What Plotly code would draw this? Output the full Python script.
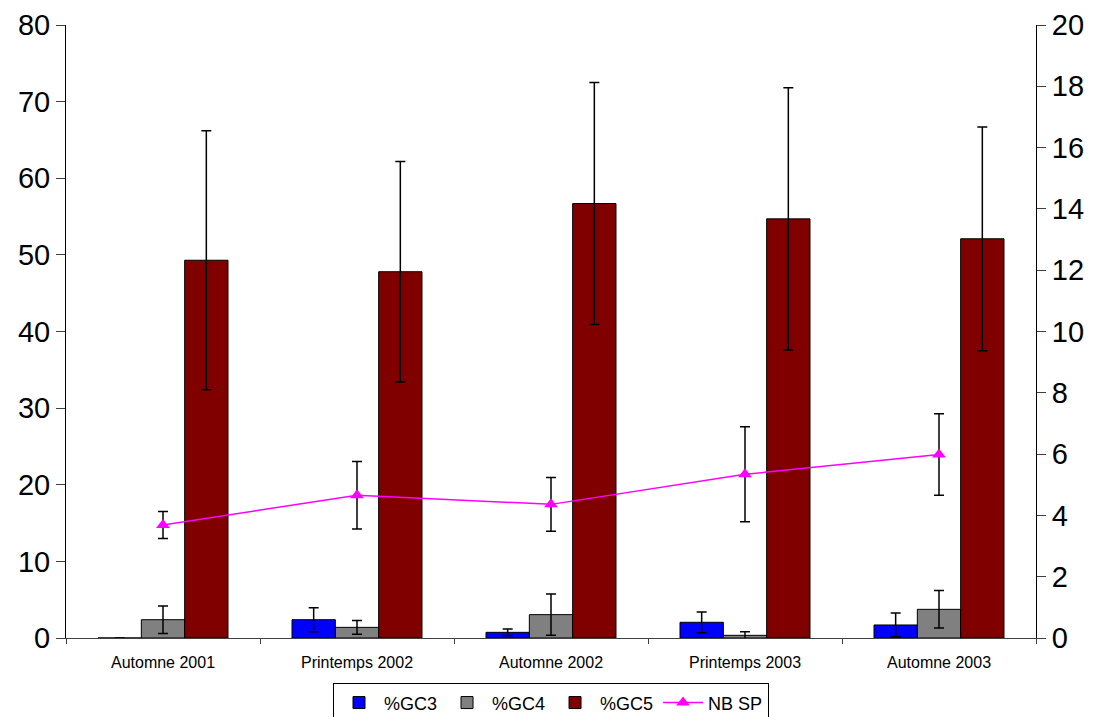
import plotly.graph_objects as go

categories = ["Automne 2001", "Printemps 2002", "Automne 2002", "Printemps 2003", "Automne 2003"]

gc3 = [0.0, 2.39, 0.74, 2.05, 1.70]
gc3_err = [0.0, 1.57, 0.43, 1.35, 1.55]
gc4 = [2.39, 1.39, 3.05, 0.35, 3.74]
gc4_err = [1.8, 0.9, 2.7, 0.45, 2.45]
gc5 = [49.3, 47.8, 56.7, 54.7, 52.1]
gc5_err = [16.9, 14.4, 15.8, 17.1, 14.6]
nbsp = [3.69, 4.66, 4.36, 5.34, 5.99]
nbsp_err = [0.44, 1.1, 0.88, 1.55, 1.33]

left_ticks = list(range(0, 81, 10))
right_ticks = list(range(0, 21, 2))

FONT = "Arial, 'Liberation Sans', sans-serif"

def err(vals):
    return dict(type="data", array=vals, visible=True, color="black", thickness=1.5, width=5)

fig = go.Figure()
fig.add_trace(go.Bar(name="%GC3", x=categories, y=gc3, error_y=err(gc3_err),
                     marker=dict(color="#0000FF", line=dict(color="black", width=1))))
fig.add_trace(go.Bar(name="%GC4", x=categories, y=gc4, error_y=err(gc4_err),
                     marker=dict(color="#808080", line=dict(color="black", width=1))))
fig.add_trace(go.Bar(name="%GC5", x=categories, y=gc5, error_y=err(gc5_err),
                     marker=dict(color="#800000", line=dict(color="black", width=1))))
fig.add_trace(go.Scatter(name="NB SP", x=categories, y=nbsp, yaxis="y2", mode="lines+markers",
                         line=dict(color="#FF00FF", width=1.5),
                         marker=dict(symbol="triangle-up", size=12, color="#FF00FF"),
                         error_y=dict(type="data", array=nbsp_err, visible=True, color="black",
                                      thickness=1.5, width=5)))

fig.update_layout(
    width=1086, height=709,
    margin=dict(l=58, r=58, t=17, b=79, autoexpand=False),
    paper_bgcolor="white", plot_bgcolor="white",
    font=dict(family=FONT, color="black"),
    barmode="group", bargap=0.33, bargroupgap=0,
    showlegend=True,
    legend=dict(orientation="h", x=0.5, xanchor="center", y=-0.074, yanchor="top",
                bordercolor="black", borderwidth=1, font=dict(size=18, family=FONT),
                itemwidth=40, tracegroupgap=0),
    xaxis=dict(type="category", showgrid=False, showline=True, linecolor="#404040", linewidth=1,
               ticks="outside", tickson="boundaries", ticklen=5, tickcolor="#404040",
               ticklabelstandoff=10,
               tickfont=dict(size=16, family=FONT), zeroline=False, automargin=False),
    yaxis=dict(range=[0, 80], tickvals=left_ticks, showgrid=False, showline=True,
               linecolor="black", linewidth=1, ticks="outside", ticklen=9, tickcolor="#404040",
               tickfont=dict(size=29, family=FONT), zeroline=False, automargin=False),
    yaxis2=dict(range=[0, 20], tickvals=right_ticks, overlaying="y", side="right",
                showgrid=False, showline=True, linecolor="black", linewidth=1,
                ticks="outside", ticklen=9, tickcolor="#404040",
                tickfont=dict(size=29, family=FONT), zeroline=False, automargin=False),
    yaxis3=dict(range=[0, 80], tickvals=left_ticks, overlaying="y", side="left", anchor="x",
                showgrid=False, showline=False, ticks="inside", ticklen=9, tickcolor="#404040",
                showticklabels=False, zeroline=False, automargin=False),
    yaxis4=dict(range=[0, 20], tickvals=right_ticks, overlaying="y", side="right", anchor="x",
                showgrid=False, showline=False, ticks="inside", ticklen=9, tickcolor="#404040",
                showticklabels=False, zeroline=False, automargin=False),
)

fig.write_html("out.html")
